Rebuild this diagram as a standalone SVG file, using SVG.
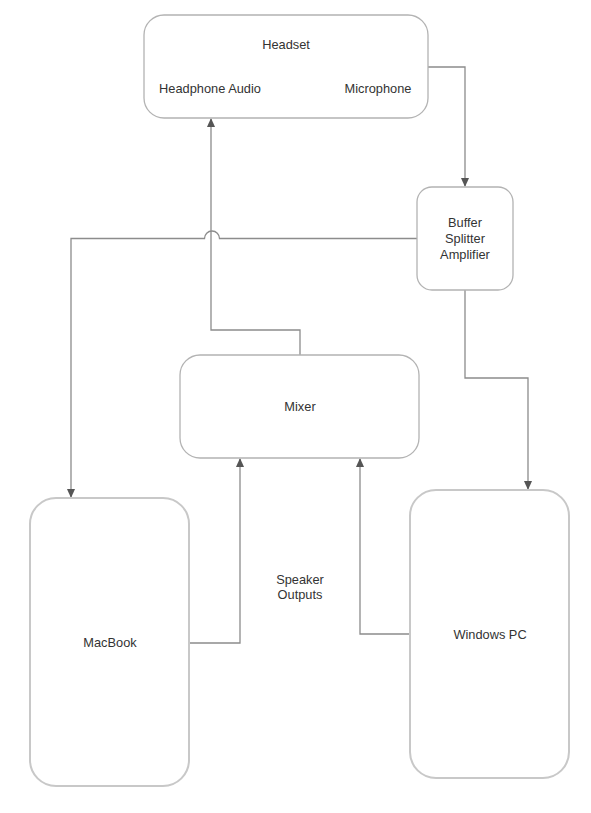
<svg xmlns="http://www.w3.org/2000/svg" width="591" height="813" viewBox="0 0 591 813">
<style>
.node{fill:#fff;stroke:#b3b3b3;stroke-width:1.3}
.dev{fill:#fff;stroke:#c8c8c8;stroke-width:2}
.t{font-family:"Liberation Sans",Arial,sans-serif;font-size:12.8px;fill:#333;text-anchor:middle}
.c{fill:none;stroke:#8c8c8c;stroke-width:1.3}
</style>
<defs>
<marker id="a" markerWidth="10" markerHeight="10" refX="8" refY="5" orient="auto" markerUnits="userSpaceOnUse">
<path d="M0,1 L9,5 L0,9 Z" fill="#555"/>
</marker>
</defs>
<rect width="591" height="813" fill="#fff"/>
<g id="connectors">
<path class="c" d="M428,67 H465 V186" marker-end="url(#a)"/>
<path class="c" d="M417,238.5 H219.5 A7.5,7.5 0 0 0 204.5,238.5 H71 V497" marker-end="url(#a)"/>
<path class="c" d="M465,290 V378 H528 V489" marker-end="url(#a)"/>
<path class="c" d="M300,355 V330 H211 V119" marker-end="url(#a)"/>
<path class="c" d="M189,643 H240 V459" marker-end="url(#a)"/>
<path class="c" d="M410,634 H360 V459" marker-end="url(#a)"/>
</g>
<g id="headset">
<rect class="node" x="144" y="15" width="284" height="103" rx="20"/>
<text class="t" x="286" y="49">Headset</text>
<text class="t" x="210" y="93">Headphone Audio</text>
<text class="t" x="378" y="93">Microphone</text>
</g>
<g id="buffer">
<rect class="node" x="417" y="187" width="96" height="103" rx="15"/>
<text class="t" x="465" y="227">Buffer</text>
<text class="t" x="465" y="243">Splitter</text>
<text class="t" x="465" y="259">Amplifier</text>
</g>
<g id="mixer">
<rect class="node" x="180" y="355" width="239" height="103" rx="20"/>
<text class="t" x="300" y="411">Mixer</text>
</g>
<g id="macbook">
<rect class="dev" x="30" y="498" width="159" height="288" rx="26"/>
<text class="t" x="110" y="647">MacBook</text>
</g>
<g id="windows">
<rect class="dev" x="410" y="490" width="159" height="288" rx="26"/>
<text class="t" x="490" y="639">Windows PC</text>
</g>
<g id="label">
<text class="t" x="300" y="584">Speaker</text>
<text class="t" x="300" y="599">Outputs</text>
</g>
</svg>
